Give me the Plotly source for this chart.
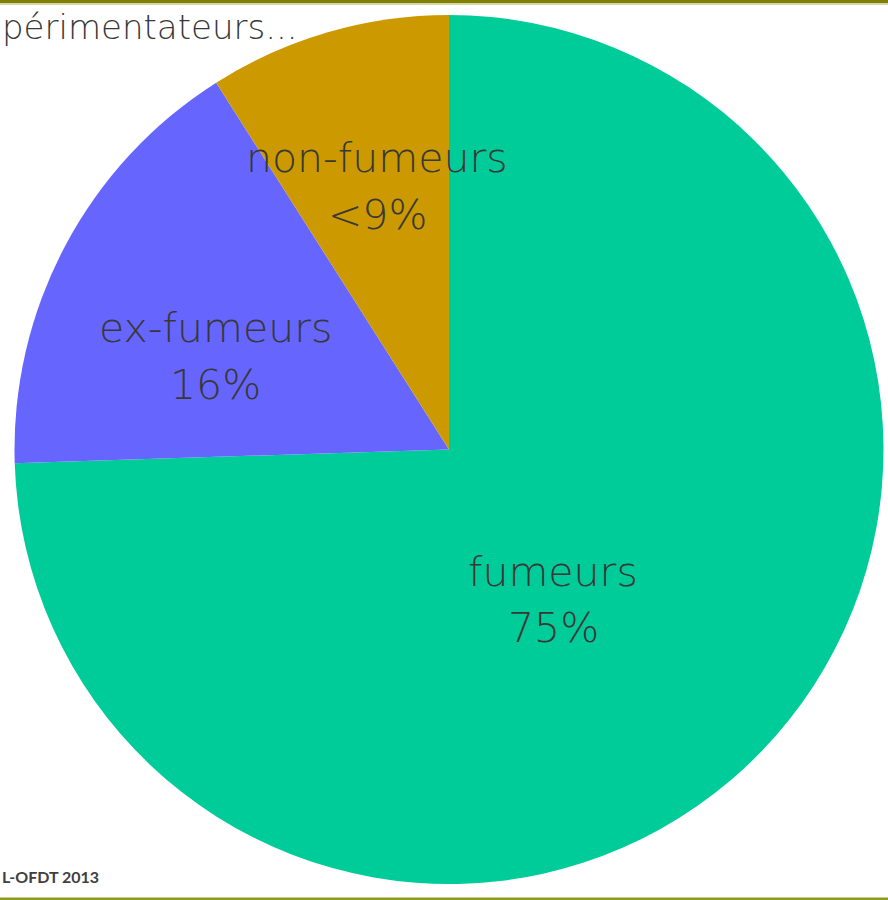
import plotly.graph_objects as go

categories = ["fumeurs", "ex-fumeurs", "non-fumeurs"]
values = [74.5, 16.5, 9.0]
pct_labels = ["75%", "16%", "<9%"]
colors = ["#00CC99", "#6666FF", "#CC9900"]
title_text = "périmentateurs..."
source_text = "L-OFDT 2013"

W, H = 888, 900
fig = go.Figure()
fig.add_trace(go.Pie(
    labels=categories, values=values, sort=False, direction="clockwise",
    rotation=0, marker=dict(colors=colors, line=dict(width=0)),
    textinfo="none", hoverinfo="label+percent", showlegend=False,
    domain=dict(x=[14 / W, 884 / W], y=[16 / H, 885 / H]),
))

font_lbl = dict(family="'DejaVu Sans', sans-serif", size=41, color="#383838", weight=200)
label_pos = [(553, 572, 628), (215, 328, 385), (377, 158, 215)]
annotations = []
for cat, pct, (px, y1, y2) in zip(categories, pct_labels, label_pos):
    annotations.append(dict(x=px / W, y=1 - y1 / H, xref="paper", yref="paper",
                            text=cat, showarrow=False, font=font_lbl,
                            xanchor="center", yanchor="middle"))
    annotations.append(dict(x=px / W, y=1 - y2 / H, xref="paper", yref="paper",
                            text=pct, showarrow=False, font=font_lbl,
                            xanchor="center", yanchor="middle"))
annotations.append(dict(x=0, y=1 - 27 / H, xref="paper", yref="paper",
                        text=title_text, showarrow=False,
                        font=dict(family="'DejaVu Sans', sans-serif", size=34,
                                  color="#383838", weight=200),
                        xanchor="left", yanchor="middle"))
annotations.append(dict(x=0, y=1 - 876 / H, xref="paper", yref="paper",
                        text="<b>" + source_text + "</b>", showarrow=False,
                        font=dict(family="Lato, sans-serif", size=16, color="#404040"),
                        xanchor="left", yanchor="middle"))

shapes = [
    dict(type="rect", xref="paper", yref="paper", x0=0, x1=1, y0=1 - 3 / H, y1=1,
         fillcolor="#808000", line=dict(width=0)),
    dict(type="rect", xref="paper", yref="paper", x0=0, x1=1, y0=1 - 5 / H, y1=1 - 3 / H,
         fillcolor="#D6D6A8", line=dict(width=0)),
    dict(type="rect", xref="paper", yref="paper", x0=0, x1=1, y0=0, y1=2.5 / H,
         fillcolor="#8C9A1E", line=dict(width=0)),
]

fig.update_layout(width=W, height=H, margin=dict(l=0, r=0, t=0, b=0),
                  paper_bgcolor="white", plot_bgcolor="white",
                  annotations=annotations, shapes=shapes)
fig.write_html("out.html", config={"displayModeBar": False},
               post_script="document.body.style.margin='0';document.body.style.overflow='hidden';")
